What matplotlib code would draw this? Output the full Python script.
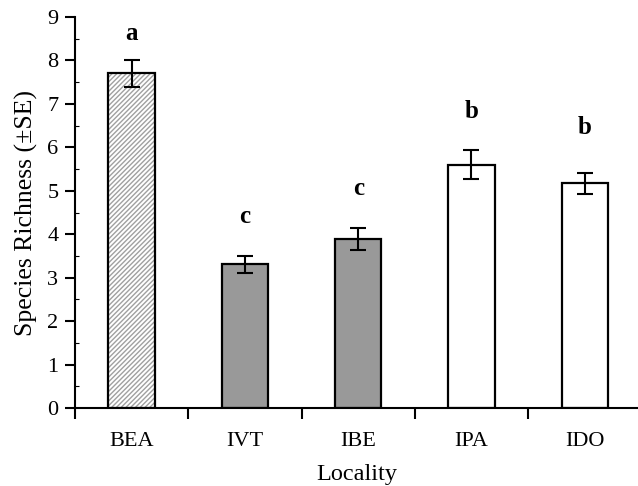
import numpy as np
import matplotlib.pyplot as plt

plt.rcParams['font.family'] = ['Liberation Serif', 'DejaVu Serif']

sites = ['BEA', 'IVT', 'IBE', 'IPA', 'IDO']
richness = [7.70, 3.31, 3.89, 5.60, 5.17]
se = [0.30, 0.20, 0.26, 0.33, 0.25]
letters = ['a', 'c', 'c', 'b', 'b']
letter_y = [8.63, 4.40, 5.06, 6.82, 6.45]
colors = ['white', '#999999', '#999999', 'white', 'white']

fig = plt.figure(figsize=(6.38, 4.86), dpi=100)
ax = fig.add_axes([0.1176, 0.1605, 0.8824, 0.8045])

x = np.arange(len(sites))
w = 0.41

# hatched first bar: gray hatch, black outline
ax.bar(x[0], richness[0], w, color='white', edgecolor='#a0a0a0', hatch='///////', linewidth=0)
ax.bar(x, richness, w, color=colors, edgecolor='black', linewidth=1.6, zorder=2)
ax.patches[-5].set_facecolor('none')
ax.errorbar(x, richness, yerr=se, fmt='none', ecolor='black', elinewidth=1.5,
            capsize=6, capthick=1.5, zorder=3)

for xi, lab, ly in zip(x, letters, letter_y):
    ax.text(xi, ly, lab, ha='center', va='center', fontsize=18, fontweight='bold')

ax.set_xlim(-0.5, 4.47)
ax.set_ylim(0, 9)
ax.set_yticks(range(10))
ax.set_yticks(np.arange(0, 9, 0.5), minor=True)
ax.set_xticks(x)
ax.set_xticklabels(sites)
ax.set_xticks(np.arange(-0.5, 4.5, 1), minor=True)

ax.tick_params(axis='x', which='major', length=0, pad=17, labelsize=16)
ax.tick_params(axis='x', which='minor', length=8, width=1.5, direction='out')
ax.tick_params(axis='y', which='major', length=7, width=1.5, direction='out', labelsize=16, pad=5)
ax.tick_params(axis='y', which='minor', length=3, width=0.8, direction='in')

for s in ['top', 'right']:
    ax.spines[s].set_visible(False)
for s in ['left', 'bottom']:
    ax.spines[s].set_linewidth(1.5)

ax.set_ylabel('Species Richness (\u00b1SE)', fontsize=18.5, labelpad=7)
ax.set_xlabel('Locality', fontsize=17.5, labelpad=10)

fig.savefig('out.png', dpi=100)
